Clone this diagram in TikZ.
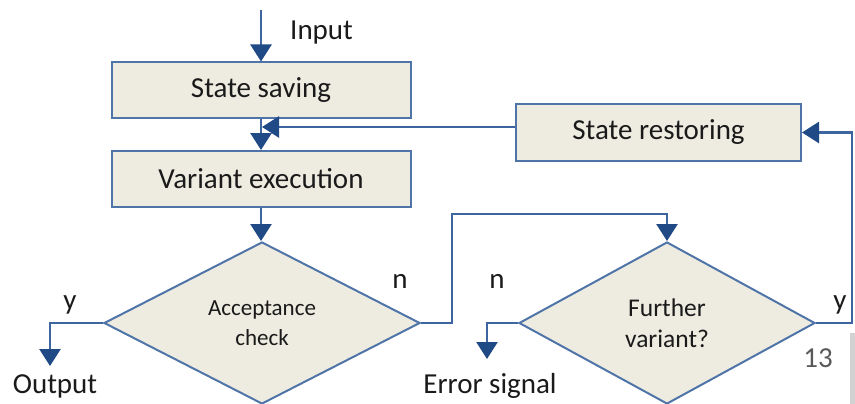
\documentclass[tikz,border=0pt]{standalone}
\usepackage{fontspec}
\setmainfont{Carlito}
\usetikzlibrary{shapes.geometric,arrows.meta}
\definecolor{boxfill}{HTML}{EEECE1}
\definecolor{boxline}{HTML}{4F74A8}
\definecolor{flow}{HTML}{3D66A0}
\definecolor{tipcol}{HTML}{1F4A85}
\definecolor{txt}{HTML}{1A1A1A}
\tikzset{
  stepbox/.style={draw=boxline, line width=2pt, fill=boxfill, text=txt,
    minimum width=299pt, minimum height=56pt, inner sep=0pt, font=\fontsize{29}{32}\selectfont},
  decision/.style={diamond, draw=boxline, line width=2pt, fill=boxfill, text=txt,
    inner sep=0pt, align=center},
  flowline/.style={draw=flow, line width=2.5pt,
    -{Triangle[width=21pt,length=17pt,color=tipcol]}},
  lbl/.style={text=txt, inner sep=0pt, font=\fontsize{29}{32}\selectfont},
}
\begin{document}
\begin{tikzpicture}[x=1pt,y=-1pt]
  \useasboundingbox (0,0) rectangle (855,404);

  % process boxes
  \node[stepbox] (save) at (261,90.5) {State saving};
  \node[stepbox] (exec) at (261,179) {Variant execution};
  \node[stepbox, minimum width=285pt, minimum height=57pt] (rest) at (658.5,132.5) {State restoring};

  % decisions
  \node[decision, minimum width=316pt, minimum height=162pt,
        font=\fontsize{23}{30}\selectfont] (acc) at (262,323) {Acceptance\\check};
  \node[decision, minimum width=296pt, minimum height=162pt,
        font=\fontsize{25.5}{31}\selectfont] (fur) at (667,323) {Further\\variant?};

  % helper points
  \coordinate (in) at (261,10);
  \coordinate (merge) at (262,127);
  \coordinate (out) at (50,366);
  \coordinate (err) at (487,359);

  % main flow
  \draw[flowline] (in) -- (save.north);
  \draw[flowline] (save.south) -- (exec.north);
  \draw[flowline] (exec.south) -- (exec.south |- acc.north);
  \draw[flowline] (rest.west |- merge) -- (merge);

  % acceptance check branches
  \draw[flowline] (acc.west) -| (out);
  \draw[flowline] (acc.east) -- (452,323) -- (452,214) -| (fur.north);

  % further variant branches
  \draw[flowline] (fur.west) -| (err);
  \draw[flowline] (fur.east) -- (852,323) |- (rest.east);

  % labels
  \node[lbl, anchor=west] (linput) at (290,33) {Input};
  \node[lbl] (ly1) at (70,305) {y};
  \node[lbl] (ln1) at (400,281) {n};
  \node[lbl] (ln2) at (497,281) {n};
  \node[lbl] (ly2) at (840,305) {y};
  \node[lbl] (lout) at (55,386) {Output};
  \node[lbl] (lerr) at (490,386) {Error signal};
  \node[lbl, text=gray!70!black] (pg) at (818,358) {13};

  % slide edge
  \fill[gray!35] (850,333) rectangle (855,404);
\end{tikzpicture}
\end{document}
